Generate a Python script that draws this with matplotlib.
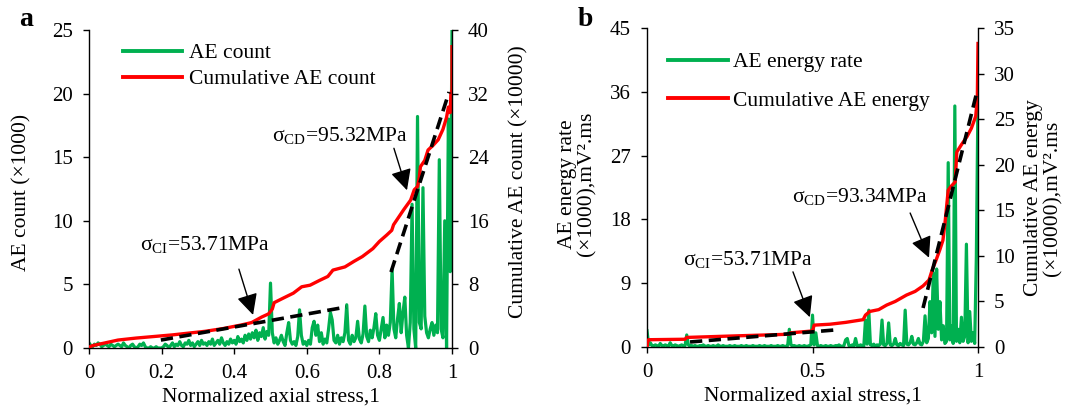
import numpy as np
import matplotlib
matplotlib.use('Agg')
import matplotlib.pyplot as plt
from matplotlib.lines import Line2D

plt.rcParams['font.family'] = ['Liberation Serif', 'DejaVu Serif']
plt.rcParams['mathtext.fontset'] = 'custom'
plt.rcParams['mathtext.rm'] = 'Liberation Serif'
plt.rcParams['mathtext.it'] = 'Liberation Serif:italic'

GREEN = '#00b050'
RED = '#ff0000'

# ---- (a) AE count, sampled every 0.005 of normalized stress ----
count_a = [
    0.4, 0.2, 0.1, 0.3, 0.2, 0.4, 0.3, 0.1, 0.2, 0.3,
    0.2, 0.1, 0.3, 0.2, 0.1, 0.2, 0.3, 0.2, 0.1, 0.4,
    0.2, 0.1, 0.0, 0.2, 0.3, 0.1, 0.0, 0.1, 0.3, 0.2,
    0.4, 0.1, 0.0, 0.0, 0.1, 0.0, 0.0, 0.1, 0.0, 0.0,
    0.0, 0.1, 0.3, 0.2, 0.0, 0.2, 0.4, 0.1, 0.3, 0.2,
    0.5, 0.2, 0.1, 0.4, 0.3, 0.6, 0.2, 0.4, 0.1, 0.3,
    0.5, 0.2, 0.6, 0.3, 0.4, 0.2, 0.5, 0.3, 0.7, 0.2,
    0.4, 0.6, 0.3, 0.8, 0.4, 0.2, 0.5, 0.3, 0.7, 0.4,
    0.6, 0.3, 0.9, 0.5, 0.7, 0.4, 1.0, 0.6, 1.1, 0.7,
    1.2, 0.8, 1.4, 0.6, 1.2, 0.9, 1.6, 0.7, 1.3, 1.0,
    5.1, 1.2, 0.4, 0.8, 0.3, 0.6, 1.0, 0.5, 0.2, 1.2,
    2.0, 0.6, 0.3, 0.5, 0.2, 0.9, 3.0, 1.0, 0.3, 0.5,
    0.2, 0.6, 0.3, 1.6, 2.1, 1.0, 1.8, 0.5, 1.2, 0.3,
    0.7, 0.4, 1.5, 2.8, 2.2, 0.6, 0.4, 1.0, 0.3, 0.8,
    0.5, 1.2, 3.4, 0.6, 0.3, 1.0, 0.5, 0.8, 2.1, 0.7,
    0.4, 1.1, 3.3, 0.9, 0.5, 1.4, 0.8, 1.6, 2.7, 1.0,
    0.6, 1.5, 2.4, 0.8, 1.8, 1.0, 2.0, 6.2, 1.5, 0.8,
    2.3, 3.5, 1.2, 2.8, 4.0, 1.0, 0.0, 2.0, 11.3, 1.5,
    0.0, 18.2, 2.0, 1.5, 12.6, 2.5, 1.2, 0.8, 1.5, 2.0,
    1.0, 1.8, 1.2, 14.8, 1.5, 0.8, 10.0, 0.0, 18.0, 6.0,
    25.0,
]
stress_a = np.linspace(0, 1, len(count_a))

# cumulative AE count (x10000)
cum_x_a = [0, 0.01, 0.04, 0.08, 0.13, 0.18, 0.23, 0.28, 0.32, 0.37, 0.42,
           0.448, 0.476, 0.495, 0.505, 0.51, 0.534, 0.563, 0.586, 0.609,
           0.635, 0.658, 0.672, 0.705, 0.73, 0.753, 0.782, 0.80, 0.82,
           0.834, 0.839, 0.867, 0.886, 0.896, 0.905, 0.91, 0.913, 0.925,
           0.934, 0.948, 0.962, 0.975, 0.985, 0.99, 0.995, 0.997, 1.0, 1.0]
cum_y_a = [0.1, 0.3, 0.6, 1.0, 1.25, 1.45, 1.65, 1.9, 2.1, 2.45, 2.9,
           3.2, 3.9, 4.3, 4.9, 5.7, 6.25, 6.9, 7.7, 7.9,
           8.5, 9.0, 9.8, 10.2, 10.9, 11.5, 12.5, 13.4, 14.2,
           14.8, 15.5, 17.4, 18.6, 19.9, 20.3, 21.5, 22.8, 23.6,
           24.9, 25.5, 26.2, 27.5, 29.0, 30.3, 29.6, 32.0, 32.5, 37.9]

# tangent lines (cumulative axis)
ci_line_a = ([0.198, 0.708], [1.0, 5.15])
cd_line_a = ([0.832, 0.992], [9.55, 32.2])

# ---- (b) AE energy rate, sampled every 0.005 ----
energy_b = [
    2.3, 0.3, 0.6, 0.2, 0.1, 0.3, 0.2, 0.1, 0.5, 0.2,
    0.1, 0.3, 0.2, 0.1, 0.6, 0.2, 0.1, 0.3, 0.2, 0.1,
    0.2, 0.3, 0.1, 0.2, 1.7, 0.3, 0.1, 0.2, 0.1, 0.2,
    0.1, 0.1, 0.2, 0.1, 0.3, 0.1, 0.1, 0.2, 0.1, 0.1,
    0.2, 0.1, 0.1, 0.3, 0.1, 0.1, 0.2, 0.1, 0.1, 0.1,
    0.2, 0.1, 0.1, 0.2, 0.1, 0.1, 0.1, 0.2, 0.1, 0.1,
    0.2, 0.1, 0.1, 0.1, 0.2, 0.1, 0.1, 0.1, 0.2, 0.1,
    0.1, 0.2, 0.1, 0.1, 0.1, 0.2, 0.1, 0.1, 0.1, 0.2,
    0.1, 0.1, 0.2, 0.1, 0.1, 0.2, 2.5, 0.3, 0.1, 0.2,
    0.1, 0.1, 0.2, 0.1, 0.1, 0.2, 0.1, 0.1, 0.2, 0.3,
    4.5, 0.3, 2.0, 0.2, 0.1, 0.2, 0.1, 0.1, 0.2, 0.1,
    0.1, 0.2, 0.1, 0.1, 0.2, 0.1, 0.3, 0.1, 0.1, 0.2,
    1.0, 1.2, 0.2, 0.1, 0.3, 0.1, 1.2, 0.2, 0.1, 0.3,
    0.2, 0.1, 3.8, 0.4, 5.2, 0.3, 0.2, 0.4, 0.1, 0.3,
    0.2, 0.4, 3.8, 0.3, 0.2, 0.5, 3.4, 0.3, 0.2, 0.4,
    1.2, 0.3, 0.2, 0.5, 0.3, 0.2, 5.2, 0.4, 0.3, 0.6,
    1.5, 0.4, 0.3, 0.6, 1.2, 0.4, 0.3, 0.8, 4.4, 0.6,
    1.2, 6.4, 2.0, 10.5, 1.5, 11.0, 2.5, 6.4, 1.0, 3.0,
    0.5, 0.8, 26.0, 1.0, 3.0, 0.5, 34.0, 0.8, 2.5, 0.6,
    4.2, 0.8, 1.5, 14.5, 0.6, 5.0, 0.8, 2.0, 0.5, 12.7,
    35.5,
]
stress_b = np.linspace(0, 1, len(energy_b))

# cumulative AE energy (x10000)
cum_x_b = [0, 0.003, 0.005, 0.115, 0.12, 0.25, 0.43, 0.432, 0.497, 0.50,
           0.505, 0.553, 0.60, 0.653, 0.66, 0.673, 0.70, 0.724, 0.75,
           0.784, 0.81, 0.834, 0.852, 0.862, 0.873, 0.885, 0.894, 0.90,
           0.91, 0.918, 0.931, 0.936, 0.95, 0.967, 0.98, 0.993, 0.998, 1.0]
cum_y_b = [0, 0.75, 0.8, 0.85, 1.05, 1.2, 1.4, 1.55, 1.75, 1.75,
           2.4, 2.5, 2.7, 3.0, 3.5, 3.9, 4.1, 4.6, 5.0,
           5.7, 6.1, 6.7, 7.35, 8.5, 9.5, 10.7, 11.7, 13.5,
           17.2, 17.6, 18.1, 21.4, 22.2, 23.1, 24.0, 25.3, 27.3, 33.3]

ci_line_b = ([0.13, 0.568], [0.55, 1.87])
cd_line_b = ([0.834, 0.994], [4.28, 27.6])

W, H = 1083, 419
fig = plt.figure(figsize=(W / 100, H / 100), dpi=100)


def fx(px):
    return px / W


def fy(py):
    return 1 - py / H


def style_axes(ax, axr):
    for a in (ax, axr):
        a.spines['top'].set_visible(False)
        for s in a.spines.values():
            s.set_linewidth(1.0)
        a.tick_params(direction='out', length=4.5, width=1.0, labelsize=15, pad=7)
    ax.spines['right'].set_visible(False)
    axr.spines['left'].set_visible(False)
    axr.spines['bottom'].set_visible(False)


def sigma_note(ax, label, txt_xy, tail, head):
    ax.text(txt_xy[0], txt_xy[1], label, fontsize=15.5, ha='center', va='center')
    ax.annotate('', xy=head, xytext=tail,
                arrowprops=dict(arrowstyle='-|>,head_length=0.8,head_width=0.4',
                                mutation_scale=16, lw=1.0, color='k',
                                shrinkA=0, shrinkB=0))


dash_kw = dict(color='k', lw=2.6, dashes=(3.4, 1.8), solid_capstyle='butt')

# ---------------- panel a ----------------
ax1 = fig.add_axes([fx(89), fy(348), fx(452) - fx(89), fy(30) - fy(348)])
ax1r = ax1.twinx()
style_axes(ax1, ax1r)

ax1.plot(stress_a, count_a, color=GREEN, lw=2.3)
ax1r.plot(cum_x_a, cum_y_a, color=RED, lw=2.4)
ax1r.plot(*ci_line_a, **dash_kw)
ax1r.plot(*cd_line_a, **dash_kw)

ax1.set_xlim(0, 1)
ax1.set_ylim(0, 25)
ax1r.set_ylim(0, 40)
ax1.set_xticks([0, 0.2, 0.4, 0.6, 0.8, 1])
ax1.set_xticklabels(['0', '0.2', '0.4', '0.6', '0.8', '1'])
ax1.set_yticks(range(0, 26, 5))
ax1r.set_yticks(range(0, 41, 8))
ax1.set_xlabel('Normalized axial stress,1', fontsize=15.5, labelpad=3)

sigma_note(ax1, 'σ$_{\\mathrm{CI}}$=53.71MPa', (0.32, 8.1), (0.413, 6.2), (0.452, 2.6))
sigma_note(ax1, 'σ$_{\\mathrm{CD}}$=95.32MPa', (0.691, 16.7), (0.840, 15.7), (0.876, 12.4))

h_a = [Line2D([], [], color=GREEN, lw=2.8), Line2D([], [], color=RED, lw=2.8)]
ax1r.legend(h_a, ['AE count', 'Cumulative AE count'], loc='upper left',
            bbox_to_anchor=(fx(123), fy(43)), bbox_transform=fig.transFigure,
            frameon=False, fontsize=15.5, handlelength=2.75, handletextpad=0.33,
            labelspacing=0.29, borderpad=0, borderaxespad=0)

fig.text(fx(22), fy(192), 'AE count (×1000)', rotation=90, fontsize=15.5,
         ha='center', va='center')
fig.text(fx(519), fy(182), 'Cumulative AE count (×10000)', rotation=90, fontsize=15.5,
         ha='center', va='center')
fig.text(fx(26), fy(20), 'a', fontsize=20, fontweight='bold', ha='center', va='center')

# ---------------- panel b ----------------
ax2 = fig.add_axes([fx(647), fy(347), fx(978) - fx(647), fy(28) - fy(347)])
ax2r = ax2.twinx()
style_axes(ax2, ax2r)

ax2.plot(stress_b, energy_b, color=GREEN, lw=2.3)
ax2r.plot(cum_x_b, cum_y_b, color=RED, lw=2.4)
ax2r.plot(*ci_line_b, **dash_kw)
ax2r.plot(*cd_line_b, **dash_kw)

ax2.set_xlim(0, 1)
ax2.set_ylim(0, 45)
ax2r.set_ylim(0, 35)
ax2.set_xticks([0, 0.5, 1])
ax2.set_xticklabels(['0', '0.5', '1'])
ax2.set_yticks(range(0, 46, 9))
ax2r.set_yticks(range(0, 36, 5))
ax2.set_xlabel('Normalized axial stress,1', fontsize=15.5, labelpad=3)

sigma_note(ax2, 'σ$_{\\mathrm{CI}}$=53.71MPa', (0.304, 12.3), (0.441, 10.6), (0.492, 4.2))
sigma_note(ax2, 'σ$_{\\mathrm{CD}}$=93.34MPa', (0.642, 21.2), (0.795, 18.9), (0.852, 12.6))

h_b = [Line2D([], [], color=GREEN, lw=2.8), Line2D([], [], color=RED, lw=2.8)]
ax2r.legend(h_b, ['AE energy rate', 'Cumulative AE energy'], loc='upper left',
            bbox_to_anchor=(fx(668), fy(52)), bbox_transform=fig.transFigure,
            frameon=False, fontsize=15.5, handlelength=2.77, handletextpad=0.26,
            labelspacing=0.86, borderpad=0, borderaxespad=0)

fig.text(fx(577), fy(184), 'AE energy rate\n(×1000),mV².ms',
         rotation=90, fontsize=15.5, ha='center', va='center', linespacing=1.05)
fig.text(fx(1043), fy(198), 'Cumulative AE energy\n(×10000),mV².ms', rotation=90,
         fontsize=15.5, ha='center', va='center', linespacing=1.05)
fig.text(fx(585), fy(19), 'b', fontsize=20, fontweight='bold', ha='center', va='center')

fig.savefig('out.png', dpi=100)
